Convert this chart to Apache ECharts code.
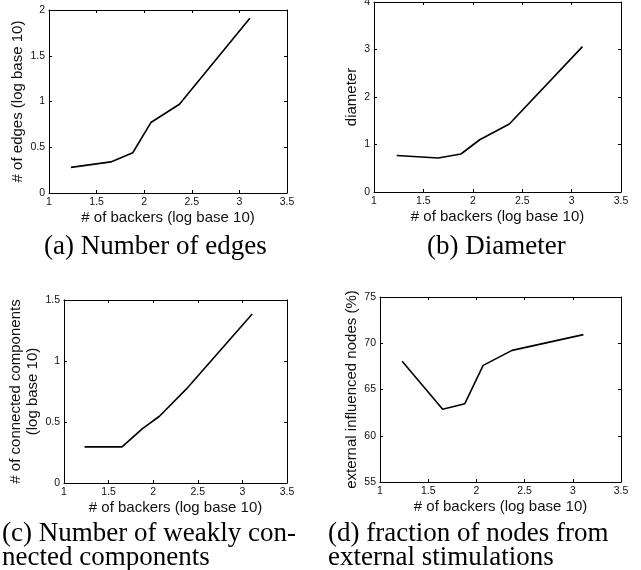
<!DOCTYPE html>
<html>
<head>
<meta charset="utf-8">
<script src="https://cdn.jsdelivr.net/npm/echarts@6/dist/echarts.min.js"></script>
<style>
html,body{margin:0;padding:0;background:#fff;}
#chart{width:641px;height:570px;}
</style>
</head>
<body>
<div id="chart"></div>
<script>
// ---- data ----
const backers    = [1.23, 1.65, 1.88, 2.07, 2.37, 3.11];   // # of backers (log base 10)
const edges      = [0.28, 0.34, 0.44, 0.77, 0.97, 1.91];   // (a)
const diameter   = [0.77, 0.715, 0.80, 1.10, 1.43, 3.06];  // (b)
const components = [0.296, 0.296, 0.446, 0.547, 0.769, 1.385]; // (c)
const external   = [68.05, 62.86, 63.47, 67.61, 69.23, 70.93]; // (d)

const xTitle = '# of backers (log base 10)';
const yTitles = ['# of edges (log base 10)', 'diameter', '# of connected components\n(log base 10)', 'external influenced nodes (%)'];
const captions = [
  ['(a) Number of edges'],
  ['(b) Diameter'],
  ['(c) Number of weakly con-', 'nected components'],
  ['(d) fraction of nodes from', 'external stimulations']
];

// ---- layout ----
const panels = [
  {grid:{left:49,top:10,width:238,height:183},  y:edges,      ymin:0,  ymax:2,   yint:0.5, xgap:14, ygap:18},
  {grid:{left:374,top:2,width:247,height:190},  y:diameter,   ymin:0,  ymax:4,   yint:1,   xgap:14, ygap:11},
  {grid:{left:64,top:300,width:223,height:183}, y:components, ymin:0,  ymax:1.5, yint:0.5, xgap:11, ygap:16},
  {grid:{left:380,top:297,width:241,height:185},y:external,   ymin:55, ymax:75,  yint:5,   xgap:9,  ygap:14}
];

const black = '#000';
const tickFont = {fontFamily:'Liberation Sans, Arial, sans-serif', fontSize:10.5, color:'#111'};
const titleFont = {fontFamily:'Liberation Sans, Arial, sans-serif', fontSize:15, color:'#111', lineHeight:17};
const capFont = 'Liberation Serif, Times New Roman, serif';

const grids = [], xAxes = [], yAxes = [], series = [];
panels.forEach((p, i) => {
  grids.push(Object.assign({containLabel:false, outerBoundsMode:'none', show:false}, p.grid));
  const baseX = {type:'value', gridIndex:i, min:1, max:3.5, interval:0.5,
    axisLine:{show:true, onZero:false, lineStyle:{color:black, width:1}},
    axisTick:{show:true, inside:true, length:3, lineStyle:{color:black}},
    splitLine:{show:false}};
  xAxes.push(Object.assign({}, baseX, {position:'bottom',
    axisLabel:Object.assign({show:true, margin:4, showMinLabel:true, showMaxLabel:true, hideOverlap:false}, tickFont),
    name:xTitle, nameLocation:'middle', nameGap:p.xgap, nameTextStyle:titleFont}));
  xAxes.push(Object.assign({}, baseX, {position:'top', axisLabel:{show:false}}));
  const baseY = {type:'value', gridIndex:i, min:p.ymin, max:p.ymax, interval:p.yint,
    axisLine:{show:true, onZero:false, lineStyle:{color:black, width:1}},
    axisTick:{show:true, inside:true, length:3, lineStyle:{color:black}},
    splitLine:{show:false}};
  yAxes.push(Object.assign({}, baseY, {position:'left',
    axisLabel:Object.assign({show:true, margin:4, showMinLabel:true, showMaxLabel:true, hideOverlap:false}, tickFont),
    name:yTitles[i], nameLocation:'middle', nameGap:p.ygap, nameTextStyle:titleFont}));
  yAxes.push(Object.assign({}, baseY, {position:'right', axisLabel:{show:false}}));
  series.push({type:'line', xAxisIndex:2*i, yAxisIndex:2*i, showSymbol:false, symbol:'none',
    lineStyle:{color:black, width:1.6}, silent:true,
    data: backers.map((x, k) => [x, p.y[k]])});
});

// caption positions
const capPos = [
  {x:44, y:[247]},
  {x:427, y:[247]},
  {x:2, y:[534, 558]},
  {x:328, y:[534, 558]}
];
const graphic = [];
captions.forEach((lines, i) => {
  lines.forEach((t, k) => {
    graphic.push({type:'text', left:capPos[i].x, top:capPos[i].y[k] - 14,
      style:{text:t, font:'27px ' + capFont, fill:black}});
  });
});

const chart = echarts.init(document.getElementById('chart'), null, {renderer:'canvas'});
chart.setOption({
  animation:false,
  backgroundColor:'#fff',
  grid:grids, xAxis:xAxes, yAxis:yAxes, series:series, graphic:graphic
});
</script>
</body>
</html>
